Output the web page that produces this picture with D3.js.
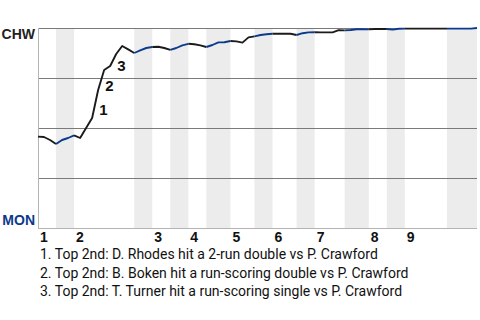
<!DOCTYPE html>
<html>
<head>
<meta charset="utf-8">
<script src="https://cdn.jsdelivr.net/npm/d3@7"></script>
<style>
  body { margin: 0; background: #fff; }
  svg { display: block; }
</style>
</head>
<body>
<div class="chart"></div>
<script>
const awayTeam = "CHW";
const homeTeam = "MON";

// plate appearances in each half inning (top 1st, bot 1st, top 2nd, ...)
const halfInningPAs = [3, 3, 10, 3, 3, 3, 3, 4, 4, 3, 4, 3, 5, 4, 3, 3, 7, 5];

// CHW win probability after each plate appearance
const winProb = [
  0.457, 0.455, 0.44, 0.42, 0.44, 0.45, 0.463, 0.45, 0.50, 0.55,
  0.69, 0.79, 0.81, 0.87, 0.91, 0.893, 0.875, 0.888, 0.90, 0.905,
  0.906, 0.90, 0.891, 0.90, 0.913, 0.921, 0.919, 0.913, 0.905, 0.915,
  0.928, 0.929, 0.935, 0.933, 0.927, 0.953, 0.958, 0.965, 0.969, 0.971,
  0.971, 0.971, 0.971, 0.965, 0.974, 0.978, 0.979, 0.978, 0.978, 0.978,
  0.989, 0.988, 0.99, 0.994, 0.994, 0.993, 0.995, 0.995, 0.995, 0.992,
  0.996, 0.997, 0.997, 0.997, 0.997, 0.997, 0.997, 0.997, 0.997, 0.997,
  0.997, 0.997, 0.997, 1.0
];

// key plays: index of the plate appearance that ends the play
const keyPlayIndex = [10, 11, 13];
const keyPlayText = [
  "Top 2nd: D. Rhodes hit a 2-run double vs P. Crawford",
  "Top 2nd: B. Boken hit a run-scoring double vs P. Crawford",
  "Top 2nd: T. Turner hit a run-scoring single vs P. Crawford"
];

const innings = d3.range(1, 10);

const WIDTH = 480;
const HEIGHT = 320;
const margin = {left: 38, right: 3, top: 28, bottom: 92};

const AWAY_COLOR = "#1b1b1b";
const HOME_COLOR = "#0b3a8c";

const svg = d3.select(".chart").append("svg")
  .attr("width", WIDTH)
  .attr("height", HEIGHT);

const x = d3.scaleLinear()
  .domain([0, winProb.length - 1])
  .range([margin.left, WIDTH - margin.right]);

const y = d3.scaleLinear()
  .domain([0, 1])
  .range([HEIGHT - margin.bottom, margin.top]);

// cumulative PA boundaries of the half innings
const bounds = [0];
halfInningPAs.forEach(n => bounds.push(bounds[bounds.length - 1] + n));
const halves = halfInningPAs.map((n, i) => ({start: bounds[i], end: bounds[i + 1], bottom: i % 2 === 1}));

// shade bottom halves
svg.append("g").selectAll("rect")
  .data(halves.filter(h => h.bottom))
  .join("rect")
  .attr("x", d => x(d.start))
  .attr("y", y(1))
  .attr("width", d => x(d.end) - x(d.start))
  .attr("height", y(0) - y(1))
  .attr("fill", "#ececec");

// horizontal grid
svg.append("g").selectAll("line")
  .data([0.25, 0.5, 0.75, 1])
  .join("line")
  .attr("x1", x.range()[0])
  .attr("x2", x.range()[1])
  .attr("y1", d => y(d) + 0.5)
  .attr("y2", d => y(d) + 0.5)
  .attr("stroke", "#7a7a7a")
  .attr("stroke-width", 1);

// bottom and left frame
svg.append("line")
  .attr("x1", x.range()[0]).attr("x2", x.range()[1])
  .attr("y1", y(0) + 0.5).attr("y2", y(0) + 0.5)
  .attr("stroke", "#b4b4b4");
svg.append("line")
  .attr("x1", x.range()[0] + 0.5).attr("x2", x.range()[0] + 0.5)
  .attr("y1", y(1)).attr("y2", y(0) + 1)
  .attr("stroke", "#b4b4b4");

// win probability line, coloured by batting team
const line = d3.line()
  .x(i => x(i))
  .y(i => y(winProb[i]));

svg.append("g").selectAll("path")
  .data(halves)
  .join("path")
  .attr("d", h => line(d3.range(h.start, h.end + 1)))
  .attr("fill", "none")
  .attr("stroke", h => h.bottom ? HOME_COLOR : AWAY_COLOR)
  .attr("stroke-width", 1.9)
  .attr("stroke-linejoin", "round");

// key play markers
svg.append("g").selectAll("text")
  .data(keyPlayIndex)
  .join("text")
  .attr("x", i => x(i) + 1)
  .attr("y", i => (y(winProb[i]) + y(winProb[i - 1])) / 2 + 11)
  .attr("font-family", "Liberation Sans, Arial, sans-serif")
  .attr("font-weight", "bold")
  .attr("font-size", 15)
  .attr("fill", "#111")
  .text((d, i) => i + 1);

// team labels
svg.append("text")
  .attr("x", margin.left - 3)
  .attr("y", y(1) + 11)
  .attr("text-anchor", "end")
  .attr("font-family", "Liberation Sans, Arial, sans-serif")
  .attr("font-weight", "bold")
  .attr("font-size", 14)
  .attr("fill", "#222")
  .text(awayTeam);

svg.append("text")
  .attr("x", margin.left - 3)
  .attr("y", y(0) - 3)
  .attr("text-anchor", "end")
  .attr("font-family", "Liberation Sans, Arial, sans-serif")
  .attr("font-weight", "bold")
  .attr("font-size", 14)
  .attr("fill", HOME_COLOR)
  .text(homeTeam);

// inning labels at the start of each top half
svg.append("g").selectAll("text")
  .data(innings)
  .join("text")
  .attr("x", n => x(bounds[(n - 1) * 2]) + 2)
  .attr("y", y(0) + 14)
  .attr("font-family", "Liberation Sans, Arial, sans-serif")
  .attr("font-weight", "bold")
  .attr("font-size", 14)
  .attr("fill", "#111")
  .text(n => n);

// key play notes
svg.append("g").selectAll("text")
  .data(keyPlayText)
  .join("text")
  .attr("x", margin.left + 2)
  .attr("y", (d, i) => 259 + i * 18.5)
  .attr("font-family", "Roboto, sans-serif")
  .attr("font-size", 14)
  .attr("fill", "#111")
  .text((d, i) => `${i + 1}. ${d}`);
</script>
</body>
</html>
